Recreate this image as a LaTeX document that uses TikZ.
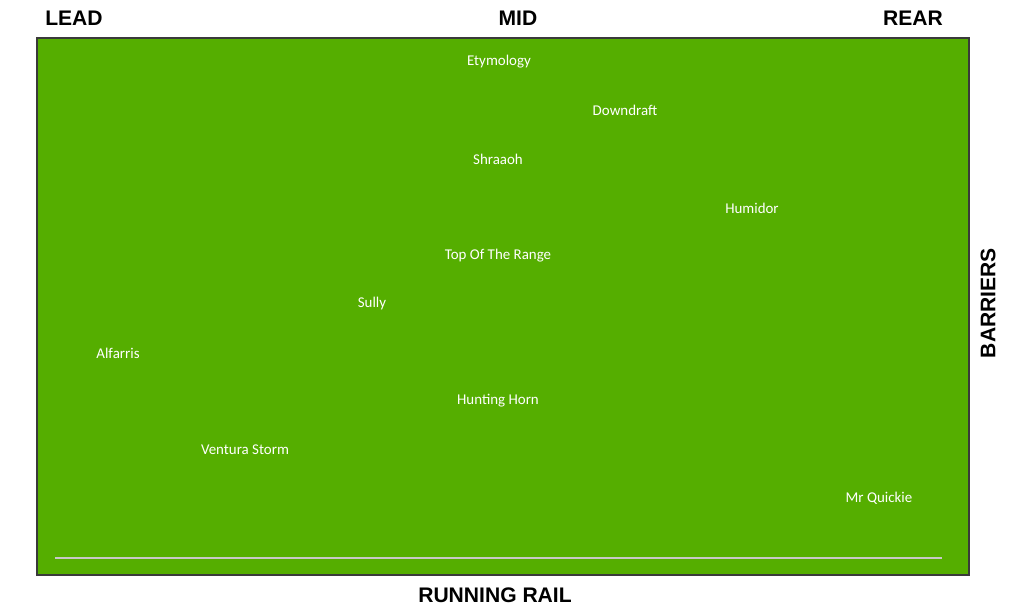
\documentclass[tikz,border=0pt]{standalone}
\usepackage{fontspec}
\setmainfont{Liberation Sans}
\newfontfamily\namefont{Carlito}
\usetikzlibrary{positioning}
\definecolor{trackgreen}{HTML}{55AE00}
\definecolor{railgray}{HTML}{C8C8C8}
\definecolor{edgegray}{HTML}{3A3A3A}
\tikzset{
  edgeLabel/.style={font=\fontsize{12}{14}\selectfont\bfseries, text=black, inner sep=0pt},
  horseLabel/.style={font=\namefont\fontsize{8.5}{10}\selectfont, text=white, inner sep=0pt}
}

\begin{document}
\begin{tikzpicture}[x=0.02cm,y=-0.02cm]
  \useasboundingbox (0,0) rectangle (1024,606);
  % track
  \draw[draw=edgegray, line width=0.8pt, fill=trackgreen] (37,38) rectangle (969,575);
  \draw[draw=railgray, line width=1.2pt] (55,558) coordinate (railL) -- (942,558) coordinate (railR);
  % edges of the track
  \node[edgeLabel] (lead) at (74,18) {LEAD};
  \node[edgeLabel] (mid) at (518,18) {MID};
  \node[edgeLabel] (rear) at (913,18) {REAR};
  \node[edgeLabel, rotate=90] (barriers) at (988,303) {BARRIERS};
  \node[edgeLabel] (rail) at (495,595) {RUNNING RAIL};
  % runners
  \node[horseLabel] (etymology) at (499,62) {Etymology};
  \node[horseLabel] (downdraft) at (625,110) {Downdraft};
  \node[horseLabel] (shraaoh) at (498,159) {Shraaoh};
  \node[horseLabel] (humidor) at (752,208) {Humidor};
  \node[horseLabel] (toprange) at (498,256) {Top Of The Range};
  \node[horseLabel] (sully) at (372,304) {Sully};
  \node[horseLabel] (alfarris) at (118,353) {Alfarris};
  \node[horseLabel] (huntinghorn) at (498,401) {Hunting Horn};
  \node[horseLabel] (ventura) at (245,450) {Ventura Storm};
  \node[horseLabel] (quickie) at (879,498) {Mr Quickie};
\end{tikzpicture}
\end{document}
